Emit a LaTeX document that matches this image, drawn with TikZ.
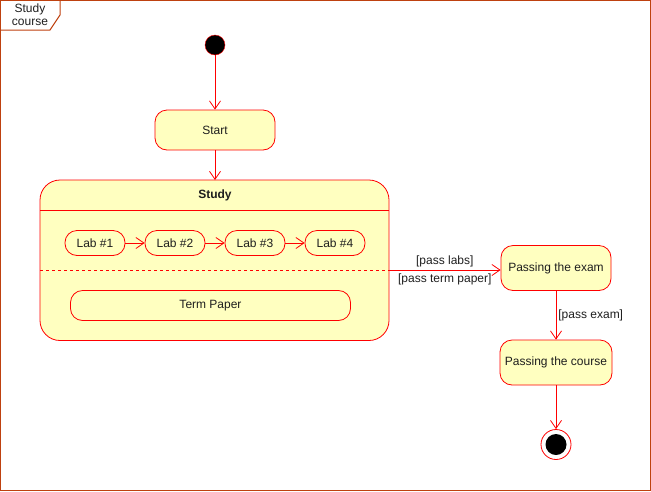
\documentclass[tikz,border=0pt]{standalone}
\usepackage{fontspec}
\setmainfont{Liberation Sans}
\usetikzlibrary{arrows.meta,positioning}
\definecolor{umlred}{RGB}{255,0,0}
\definecolor{umlfill}{RGB}{255,255,192}
\definecolor{framecol}{RGB}{190,65,15}
\definecolor{txt}{RGB}{30,30,30}

\begin{document}
\begin{tikzpicture}[x=1pt,y=-1pt,font=\fontsize{12}{14}\selectfont,text=txt,
  state/.style={draw=umlred,fill=umlfill,rounded corners=#1,line width=.8pt},
  state/.default=12pt,
  init/.style={draw=umlred,fill=black,circle,minimum size=20pt,inner sep=0pt},
  trans/.style={draw=umlred,line width=.8pt,-{Straight Barb[length=8pt,width=11pt]}},
  guard/.style={inner sep=1pt}]
  \useasboundingbox (0,0) rectangle (651,491);
  % frame
  \draw[framecol,line width=1pt] (.5,.5) rectangle (650.5,490.5);
  \draw[framecol,line width=1pt] (.5,30) -- (50,30) -- (60,15) -- (60,.5);
  \node[align=center,font=\fontsize{12}{13}\selectfont] (fname) at (30,15) {Study\\course};
  % initial
  \node[init] (init) at (215,45) {};
  \node[state,minimum width=120pt,minimum height=40pt] (start) at (215,130) {Start};
  % composite state
  \draw[state=20pt] (40,180) rectangle (389,340.5);
  \coordinate (studytop) at (215,180);
  \coordinate (studyright) at (389,270);
  \draw[umlred,line width=.8pt] (40,210.5) -- (389,210.5);
  \draw[umlred,line width=.8pt,dashed] (40,270) -- (389,270);
  \node[font=\fontsize{12}{14}\selectfont\bfseries] (study) at (215,195) {Study};
  \foreach \i/\x in {1/95,2/175,3/255,4/335}
    \node[state,minimum width=60pt,minimum height=25pt] (lab\i) at (\x,243) {Lab \#\i};
  \foreach \a/\b in {1/2,2/3,3/4}
    \draw[trans] (lab\a) -- (lab\b);
  \node[state,minimum width=280pt,minimum height=30pt] (paper) at (210.5,305.5) {Term Paper};
  % right side
  \node[state,minimum width=110pt,minimum height=45pt] (exam) at (556,268) {Passing the exam};
  \node[state,minimum width=112pt,minimum height=45pt] (course) at (556,362.5) {Passing the course};
  \node[draw=umlred,fill=white,circle,minimum size=30pt,inner sep=0pt,line width=.8pt] (final) at (556,444.5) {};
  \node[fill=black,circle,minimum size=21pt,inner sep=0pt] (finaldot) at (final) {};
  % transitions
  \draw[trans] (init) -- (start);
  \draw[trans] (start) -- (studytop);
  \draw[trans] (studyright) -- (exam.west |- studyright)
    node[guard,pos=.5,above=2pt] {[pass labs]}
    node[guard,pos=.5,below=2pt] {[pass term paper]};
  \draw[trans] (exam) -- node[guard,right=1pt] {[pass exam]} (course);
  \draw[trans] (course) -- (final);
\end{tikzpicture}
\end{document}
